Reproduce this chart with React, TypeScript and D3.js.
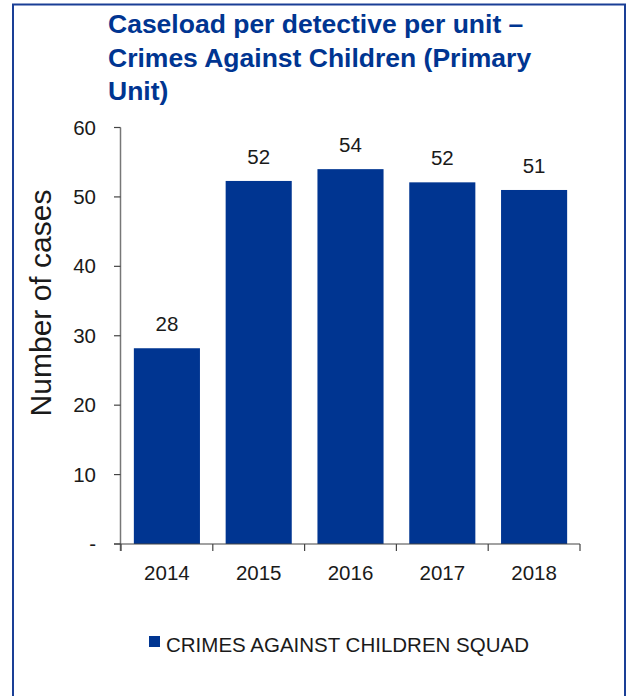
import React from "react";
import * as d3 from "d3";

const years = ["2014", "2015", "2016", "2017", "2018"];
const caseload = [28.2, 52.3, 54.0, 52.1, 51.0];
const valueLabels = ["28", "52", "54", "52", "51"];
const yTicks = [0, 10, 20, 30, 40, 50, 60];
const titleLines = ["Caseload per detective per unit –", "Crimes Against Children (Primary", "Unit)"];
const legendLabel = "CRIMES AGAINST CHILDREN SQUAD";
const yTitle = "Number of cases";

const W = 628;
const H = 696;
const BLUE = "#003591";
const FONT = "'Liberation Sans', Arial, sans-serif";

export default function App() {
  const x = d3.scaleBand<string>().domain(years).range([121, 580]).paddingInner(0.28).paddingOuter(0.14);
  const step = x.step();
  const x0 = 121;
  const y = d3.scaleLinear().domain([0, 60]).range([544, 127.5]);

  return (
    <svg width={W} height={H} style={{ position: "absolute", left: 0, top: 0, background: "#fff" }}>
      <rect x={13} y={4.5} width={612} height={H + 10} fill="none" stroke="#1a3f96" strokeWidth={2} />
      <g fontFamily={FONT} fontWeight="bold" fontSize={26.5} fill={BLUE}>
        {titleLines.map((t, i) => (
          <text key={i} x={108} y={33 + i * 33.5}>{t}</text>
        ))}
      </g>
      {years.map((yr, i) => (
        <rect key={yr} x={x(yr)} y={y(caseload[i])} width={x.bandwidth()} height={y(0) - y(caseload[i])} fill={BLUE} />
      ))}
      {years.map((yr, i) => (
        <text key={"v" + yr} x={(x(yr) as number) + x.bandwidth() / 2} y={y(caseload[i]) - 17} textAnchor="middle" fontFamily={FONT} fontSize={20.5} fill="#1a1a1a">{valueLabels[i]}</text>
      ))}
      {/* y axis */}
      <line x1={120.5} x2={120.5} y1={y(60)} y2={551} stroke="#777" strokeWidth={1.5} />
      {yTicks.map((t) => (
        <g key={t}>
          <line x1={114} x2={120.5} y1={y(t)} y2={y(t)} stroke="#444" strokeWidth={1.2} />
          <text x={96} y={y(t) + 7} textAnchor="end" fontFamily={FONT} fontSize={20.5} fill="#1a1a1a">{t === 0 ? "-" : String(t)}</text>
        </g>
      ))}
      {/* x axis */}
      <line x1={114} x2={580} y1={y(0)} y2={y(0)} stroke="#444" strokeWidth={1.2} />
      {d3.range(years.length + 1).map((k) => (
        <line key={k} x1={x0 + k * step} x2={x0 + k * step} y1={y(0)} y2={551} stroke="#444" strokeWidth={1.2} />
      ))}
      {years.map((yr) => (
        <text key={"x" + yr} x={(x(yr) as number) + x.bandwidth() / 2} y={580} textAnchor="middle" fontFamily={FONT} fontSize={20.5} fill="#1a1a1a">{yr}</text>
      ))}
      <text transform={`translate(51,303) rotate(-90)`} textAnchor="middle" fontFamily={FONT} fontSize={30} fill="#1a1a1a">{yTitle}</text>
      {/* legend */}
      <rect x={149} y={636} width={11} height={11} fill={BLUE} />
      <text x={166} y={652} fontFamily={FONT} fontSize={20.5} fill="#1a1a1a">{legendLabel}</text>
    </svg>
  );
}
